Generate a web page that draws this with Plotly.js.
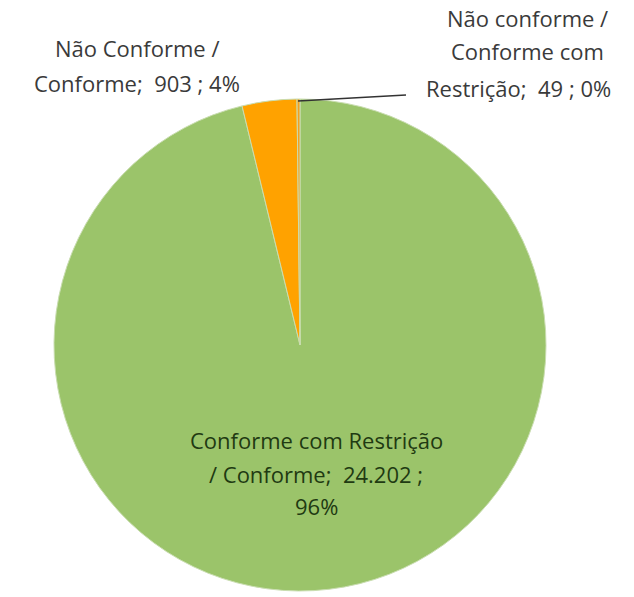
<!DOCTYPE html>
<html>
<head>
<meta charset="utf-8">
<script src="https://cdn.plot.ly/plotly-3.0.1.min.js"></script>
<style>html,body{margin:0;padding:0;background:#fff;}#chart{width:634px;height:597px;}</style>
</head>
<body>
<div id="chart"></div>
<script>
// Data
var labels = ["Conforme com Restrição / Conforme", "Não Conforme / Conforme", "Não conforme / Conforme com Restrição"];
var values = [24202, 903, 49];
var colors = ["#9bc46a", "#ffa200", "#f4a020"];
// label line parts (text only)
var labelParts = [
  ["Conforme com Restrição", "/ Conforme"],
  ["Não Conforme /", "Conforme"],
  ["Não conforme /", "Conforme com", "Restrição"]
];

function fmt(n) { return String(n).replace(/\B(?=(\d{3})+(?!\d))/g, "."); }
var total = values.reduce(function (a, b) { return a + b; }, 0);
var pcts = values.map(function (v) { return Math.round(v / total * 100) + "%"; });

function buildLines(i) {
  var parts = labelParts[i].slice();
  var last = parts.length - 1;
  if (i === 0) {
    parts[last] = parts[last] + ";  " + fmt(values[i]) + " ;";
    parts.push(pcts[i]);
  } else {
    parts[last] = parts[last] + ";  " + fmt(values[i]) + " ; " + pcts[i];
  }
  return parts;
}

var W = 634, H = 597;
var cx = 300, cy = 345, r = 246;

var trace = {
  type: "pie",
  labels: labels,
  values: values,
  sort: false,
  direction: "clockwise",
  rotation: 0,
  textinfo: "none",
  hoverinfo: "label+value+percent",
  marker: { colors: colors, line: { color: "#c9ddb0", width: 1 } },
  domain: { x: [(cx - r) / W, (cx + r) / W], y: [(H - cy - r) / H, (H - cy + r) / H] },
  showlegend: false
};

// label placements (pixels)
var labelPos = [
  { x: 316, ys: [440, 474, 506], color: "#1f3a12" },
  { x: 137, ys: [48, 83], color: "#3a3a3a" },
  { x: 527, ys: [18, 51, 88], color: "#3a3a3a" }
];

var annotations = [];
for (var i = 0; i < values.length; i++) {
  var lines = buildLines(i);
  for (var j = 0; j < lines.length; j++) {
    var lx = labelPos[i].x;
    if (i === 2 && j === 2) lx = 518;
    annotations.push({
      xref: "paper", yref: "paper",
      x: lx / W, y: 1 - labelPos[i].ys[j] / H,
      xanchor: "center", yanchor: "middle",
      text: lines[j], showarrow: false,
      font: { family: "'Open Sans', sans-serif", size: 22, color: labelPos[i].color }
    });
  }
}

var layout = {
  width: W, height: H,
  margin: { l: 0, r: 0, t: 0, b: 0 },
  paper_bgcolor: "#ffffff",
  annotations: annotations,
  shapes: [{
    type: "line", xref: "paper", yref: "paper",
    x0: 298 / W, y0: 1 - 101 / H, x1: 406 / W, y1: 1 - 95 / H,
    line: { color: "#333333", width: 1.5 }
  }]
};

Plotly.newPlot("chart", [trace], layout, { displayModeBar: false, staticPlot: true });
</script>
</body>
</html>
